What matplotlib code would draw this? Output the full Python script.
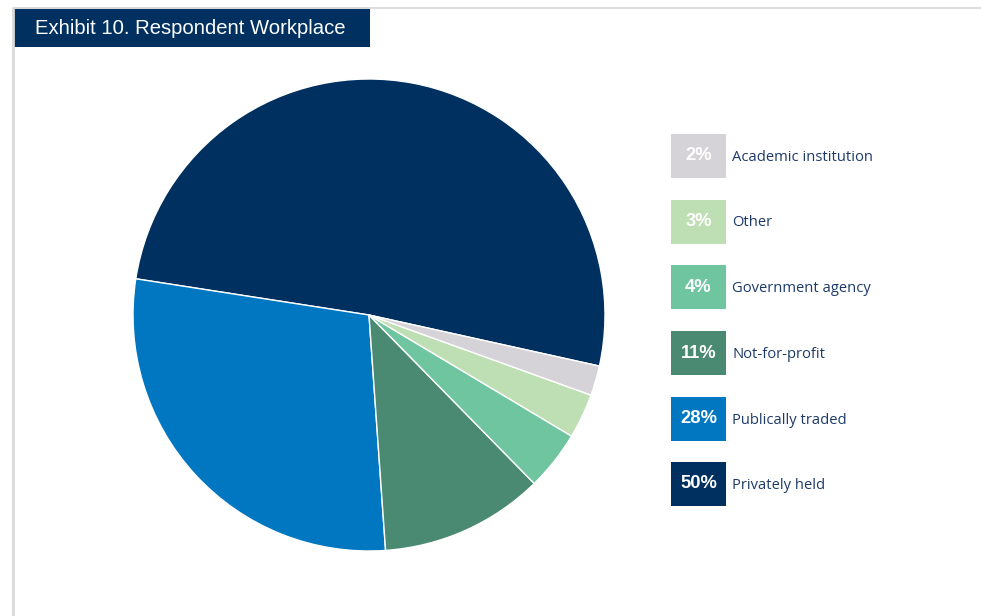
import matplotlib.pyplot as plt
from matplotlib.patches import Rectangle

# workplace shares, in wedge order (counter-clockwise)
labels = ["Privately held", "Publically traded", "Not-for-profit",
          "Government agency", "Other", "Academic institution"]
shares = [50, 28, 11, 4, 3, 2]
colors = ["#00305f", "#0077c0", "#4a8a72", "#6ec5a0", "#bedfb3", "#d5d3d8"]

title = "Exhibit 10. Respondent Workplace"
navy = "#00305f"
text_col = "#1c3a68"

W, H = 981, 616
fig = plt.figure(figsize=(W / 100, H / 100), dpi=100)

# pixel-space overlay for frame, title box and legend
bg = fig.add_axes([0, 0, 1, 1])
bg.set_xlim(0, W)
bg.set_ylim(H, 0)
bg.axis("off")

bg.plot([13, W], [7.5, 7.5], color="#dcdcdc", lw=1.4, solid_capstyle="butt")
bg.plot([13, 13], [7, H], color="#d9d9d9", lw=2, solid_capstyle="butt")
bg.add_patch(Rectangle((13, 7), 357, 40, color=navy, lw=0))
bg.text(35, 28, title, color="white", fontsize=14.6, family="Liberation Sans",
        va="center", ha="left")

# pie
cx, cy, r = 369, 315, 236
ax = fig.add_axes([(cx - r) / W, (H - cy - r) / H, 2 * r / W, 2 * r / H])
ax.pie(shares, colors=colors, startangle=-12.5, counterclock=True,
       wedgeprops=dict(edgecolor="white", linewidth=1.0))
ax.set_xlim(-1, 1)
ax.set_ylim(-1, 1)
ax.set_aspect("equal")

# legend: top row is the smallest share
row_y = [156, 221.5, 287, 353, 418.5, 484]
for y, lab, val, col in zip(row_y, labels[::-1], shares[::-1], colors[::-1]):
    bg.add_patch(Rectangle((671, y - 22), 55, 44, color=col, lw=0))
    bg.text(698.5, y, f"{val}%", color="white", fontsize=13.2, fontweight="bold",
            family="Liberation Sans", ha="center", va="center")
    bg.text(732, y + 1.5, lab, color=text_col, fontsize=10.6, family="Open Sans",
            ha="left", va="center")

fig.savefig("out.png", dpi=100)
